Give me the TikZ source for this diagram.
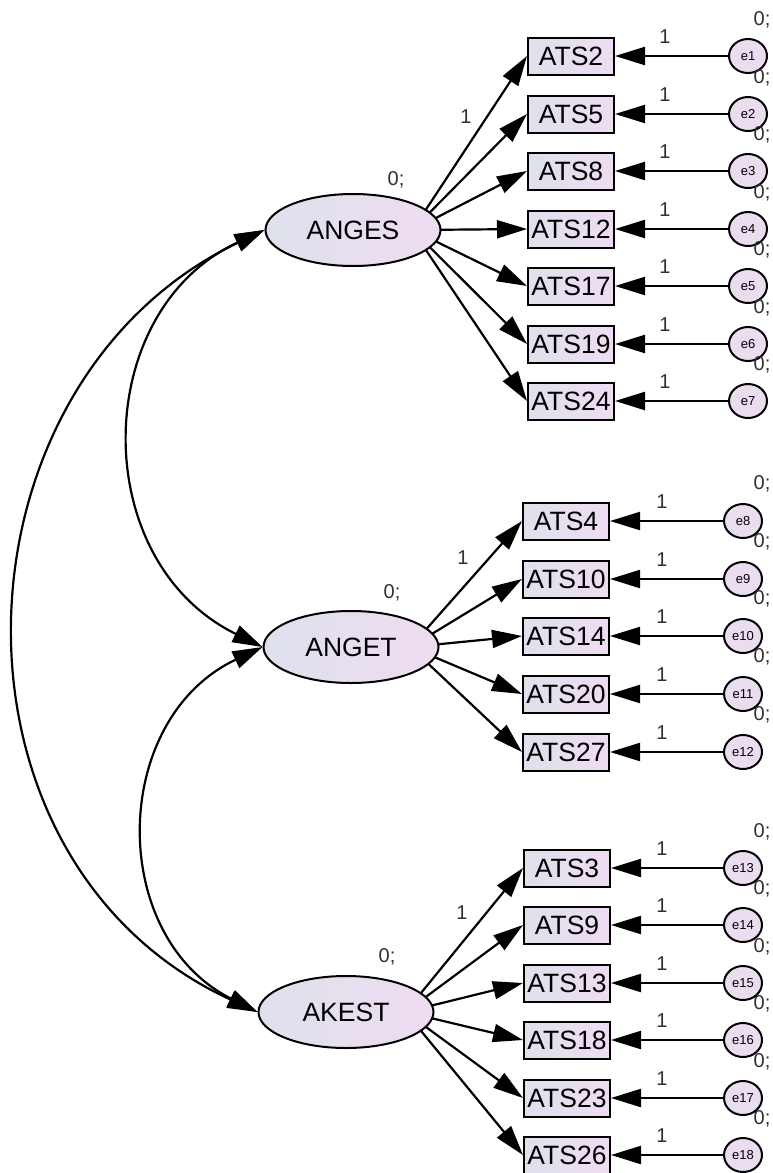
\documentclass[tikz,border=0pt]{standalone}
\usepackage{fontspec}
\setmainfont{Liberation Sans}
\usetikzlibrary{shapes.geometric,arrows.meta,backgrounds}

\definecolor{shadeL}{HTML}{DEE1EB}
\definecolor{shadeR}{HTML}{EFDCF2}
\definecolor{errfill}{HTML}{EADDF0}
\definecolor{lbl}{HTML}{303030}

\tikzset{
  latent/.style={ellipse, draw, line width=2pt, minimum width=175pt,
    minimum height=72pt, inner sep=0pt, left color=shadeL, right color=shadeR,
    font=\fontsize{26.5}{26.5}\selectfont},
  obs/.style={rectangle, draw, line width=2pt, minimum width=86pt,
    minimum height=37pt, inner sep=0pt, left color=shadeL, right color=shadeR,
    font=\fontsize{26.5}{26.5}\selectfont},
  err/.style={ellipse, draw, line width=2pt, minimum width=38pt,
    minimum height=34pt, inner sep=0pt, fill=errfill,
    font=\fontsize{13}{13}\selectfont},
  zero/.style={text=lbl, inner sep=0pt, font=\fontsize{20}{20}\selectfont},
  one/.style={text=lbl, inner sep=0pt, font=\fontsize{20}{20}\selectfont},
  arr/.style={line width=2.2pt, -{Triangle[length=30pt,width=18pt]}},
  cov/.style={line width=2.2pt,
    {Triangle[length=30pt,width=18pt]}-{Triangle[length=30pt,width=18pt]}},
}

\begin{document}
\begin{tikzpicture}[x=1pt, y=-1pt]
\useasboundingbox (0,0) rectangle (773,1173);
\begin{pgfonlayer}{background}
  \fill[white] (0,0) rectangle (773,1173);
\end{pgfonlayer}

% latent factors
\node[latent] (ANGES) at (353,230) {ANGES};
\node[latent] (ANGET) at (351,647) {ANGET};
\node[latent] (AKEST) at (346,1012) {AKEST};
\node[zero] at (396,180) {0;};
\node[zero] at (392,593) {0;};
\node[zero] at (387,957) {0;};

% points inside each factor that the loading paths radiate from
\coordinate (ANGESsrc) at ([xshift=-29pt]ANGES.east);
\coordinate (ANGETsrc) at ([xshift=-29pt]ANGET.east);
\coordinate (AKESTsrc) at ([xshift=-29pt]AKEST.east);

% ANGES indicators
\foreach \a/\e [count=\i from 0] in {2/1,5/2,8/3,12/4,17/5,19/6,24/7} {
  \pgfmathsetmacro\yy{round(56+57.5*\i)}
  \node[obs] (ATS\a) at (571,\yy) {ATS\a};
  \node[err] (e\e) at (748,\yy) {e\e};
  \node[zero] at (762,\yy-36) {0;};
  \node[one] at (665,\yy-19) {1};
  \begin{pgfonlayer}{background}
    \draw[arr] (ANGESsrc) -- (ATS\a.west);
  \end{pgfonlayer}
  \draw[arr] (e\e) -- (ATS\a);
}
\node[one] at (466,117) {1};

% ANGET indicators
\foreach \a/\e [count=\i from 0] in {4/8,10/9,14/10,20/11,27/12} {
  \pgfmathsetmacro\yy{round(521+57.7*\i)}
  \node[obs] (ATS\a) at (566,\yy) {ATS\a};
  \node[err] (e\e) at (743,\yy) {e\e};
  \node[zero] at (762,\yy-37) {0;};
  \node[one] at (662,\yy-19) {1};
  \begin{pgfonlayer}{background}
    \draw[arr] (ANGETsrc) -- (ATS\a.west);
  \end{pgfonlayer}
  \draw[arr] (e\e) -- (ATS\a);
}
\node[one] at (463,558) {1};

% AKEST indicators
\foreach \a/\e [count=\i from 0] in {3/13,9/14,13/15,18/16,23/17,26/18} {
  \pgfmathsetmacro\yy{round(868+57.4*\i)}
  \node[obs] (ATS\a) at (567,\yy) {ATS\a};
  \node[err] (e\e) at (743,\yy) {e\e};
  \node[zero] at (762,\yy-36) {0;};
  \node[one] at (662,\yy-19) {1};
  \begin{pgfonlayer}{background}
    \draw[arr] (AKESTsrc) -- (ATS\a.west);
  \end{pgfonlayer}
  \draw[arr] (e\e) -- (ATS\a);
}
\node[one] at (462,913) {1};

% factor covariances
\draw[cov] (ANGES.west) .. controls (90,311) and (87,561) .. (ANGET.west);
\draw[cov] (ANGET.west) .. controls (110,719) and (107,936) .. (AKEST.west);
\draw[cov] (ANGES.west) .. controls (-55,383) and (-72,860) .. (AKEST.west);
\end{tikzpicture}
\end{document}
